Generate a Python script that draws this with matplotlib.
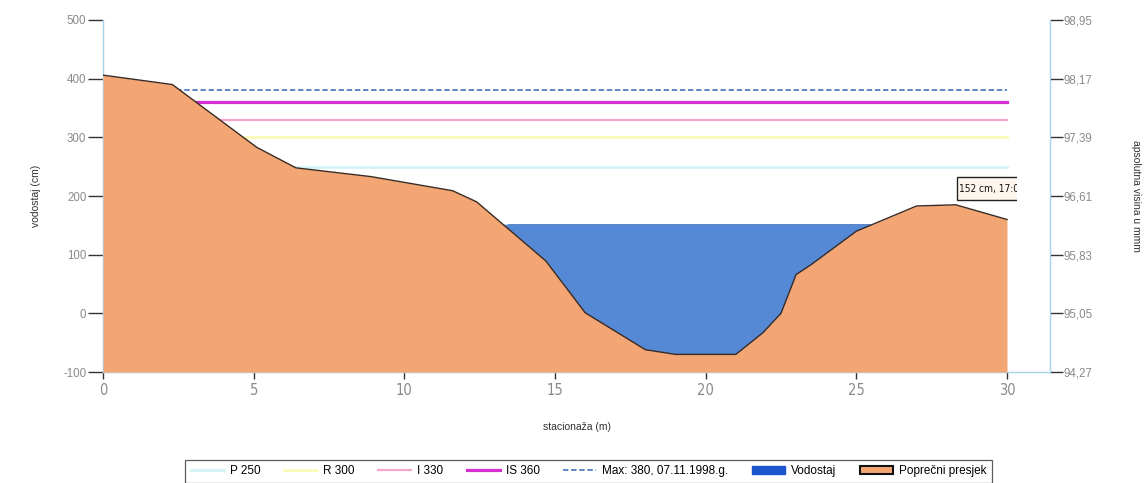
import numpy as np
import matplotlib
matplotlib.use("Agg")
import matplotlib.pyplot as plt
from matplotlib import font_manager
from matplotlib.lines import Line2D
from matplotlib.patches import Patch, Rectangle

plt.rcParams['font.family'] = ['Liberation Sans', 'DejaVu Sans']

# Pick a narrow face for the compact labels when one is installed
_installed = {(f.name, f.stretch) for f in font_manager.fontManager.ttflist}
_names = {n for n, _ in _installed}
if 'Liberation Sans Narrow' in _names:
    narrow = dict(family='Liberation Sans Narrow')
    narrow_ok = True
elif any(n == 'DejaVu Sans' and s in ('condensed', 'semi-condensed', 75, 87) for n, s in _installed):
    narrow = dict(family='DejaVu Sans', fontstretch='condensed')
    narrow_ok = True
else:
    narrow = dict(family='Liberation Sans')
    narrow_ok = False

# Cross-section profile: station (m) and stage-referenced elevation (cm)
station = [0, 2.3, 5.1, 6.4, 8.9, 11.6, 12.4, 14.7, 16.0, 18.0, 19.0,
           21.0, 21.9, 22.5, 23.0, 23.5, 25.0, 27.0, 28.3, 30.0]
elevation = [406, 390, 283, 248, 233, 209, 190, 89, 1, -62, -70,
             -70, -33, 0, 66, 83, 140, 183, 185, 160]

# Current water stage
water_level = 152
water_label = "152 cm, 17:00 h"

# Warning levels
level_names = ["P 250", "R 300", "I 330", "IS 360", "Max: 380, 07.11.1998.g."]
level_values = [250, 300, 330, 360, 380]
level_colors = ["#d3f3f8", "#fbfbb8", "#f7a6cf", "#d62fd2", "#4f7fc4"]
level_widths = [2.0, 2.0, 1.6, 2.3, 1.3]
level_styles = ["-", "-", "-", "-", (0, (3, 1.5))]

# Left-axis ticks and matching absolute heights on the right
left_ticks = [-100, 0, 100, 200, 300, 400, 500]
right_tick_labels = ["94,27", "95,05", "95,83", "96,61", "97,39", "98,17", "98,95"]
x_ticks = [0, 5, 10, 15, 20, 25, 30]

x = np.array(station, dtype=float)
y = np.array(elevation, dtype=float)

fig = plt.figure(figsize=(11.45, 4.83), dpi=100)
ax = fig.add_axes([0.0900, 0.2298, 0.8271, 0.7288])

spine_col = "#a9d3ea"
tick_col = "#8a8a8a"

# Warning level lines span the whole section and sit beneath the terrain
for v, c, w, s in zip(level_values, level_colors, level_widths, level_styles):
    ax.plot([x[0], x[-1]], [v, v], color=c, lw=w, ls=s, zorder=1)

# Water body
ax.fill_between(x, y, water_level, where=y < water_level, interpolate=True,
                color="#5588d5", lw=0, zorder=2)
ax.plot([13.45, 25.45], [water_level, water_level], color="#4a78c0", lw=0.6, zorder=2)

# Terrain
ax.fill_between(x, -100, y, color="#f3a674", lw=0, zorder=3)
ax.plot(x, y, color="#3a2a22", lw=1.0, zorder=4)

ax.set_xlim(0, 31.43)
ax.set_ylim(-100, 500)

ax.spines["top"].set_visible(False)
for side in ["left", "right", "bottom"]:
    ax.spines[side].set_color(spine_col)
    ax.spines[side].set_linewidth(1.0)

ax.set_yticks(left_ticks)
ax.set_yticklabels([str(t) for t in left_ticks])
ax.set_xticks(x_ticks)
ax.set_xticklabels([str(t) for t in x_ticks], **narrow)
ax.tick_params(axis='y', direction='out', length=11, width=1, color="#333333",
               labelcolor=tick_col, labelsize=8.3, pad=1)
ax.tick_params(axis='x', direction='out', length=5, width=1, color="#333333",
               labelcolor=tick_col, labelsize=10.5, pad=3)

ax2 = ax.twinx()
ax2.set_ylim(-100, 500)
ax2.set_yticks(left_ticks)
ax2.set_yticklabels(right_tick_labels)
ax2.tick_params(axis='y', direction='out', length=9, width=1, color="#333333",
                labelcolor=tick_col, labelsize=8.3, pad=1)
for side in ["top", "left", "bottom"]:
    ax2.spines[side].set_visible(False)
ax2.spines["right"].set_color(spine_col)

ax.set_ylabel("vodostaj (cm)", fontsize=7.5, color="#333333", labelpad=16)
ax2.set_ylabel("apsolutna visina u mmm", fontsize=7.5, color="#333333",
               rotation=-90, va="bottom")
ax2.yaxis.set_label_coords(1.085, 0.5)
ax.set_xlabel("stacionaža (m)", fontsize=7.5, color="#333333", labelpad=17)

# Stage annotation box and text, both clipped at the plot edge
clip_rect = Rectangle((0, -100), 30.33, 600, transform=ax.transData)
box = Rectangle((28.35, 192.5), 2.5, 39.2, fc="#fdf6ee", ec="#222222", lw=1.0, zorder=6)
ax.add_patch(box)
box.set_clip_path(clip_rect)
txt = ax.text(28.42, 212, water_label, fontsize=7.3,
              color="#111111", ha="left", va="center", zorder=7, clip_on=True,
              **(narrow if narrow_ok else {}))
txt.set_clip_path(clip_rect)

handles = [Line2D([0], [0], color=c, lw=w, ls=s)
           for c, w, s in zip(level_colors, level_widths, level_styles)]
handles.append(Patch(fc="#1c55cc", ec="#1c55cc"))
handles.append(Patch(fc="#f3a674", ec="#111111", lw=1.5))
labels = level_names + ["Vodostaj", "Poprečni presjek"]
leg = fig.legend(handles, labels, loc="upper center", bbox_to_anchor=(0.514, 0.0476),
                 ncol=7, fontsize=8.5, frameon=True, fancybox=False,
                 edgecolor="#333333", handlelength=2.8, columnspacing=2.0,
                 handletextpad=0.5, borderpad=0.45, borderaxespad=0)
leg.get_frame().set_linewidth(0.9)

fig.savefig("out.png", dpi=100)
